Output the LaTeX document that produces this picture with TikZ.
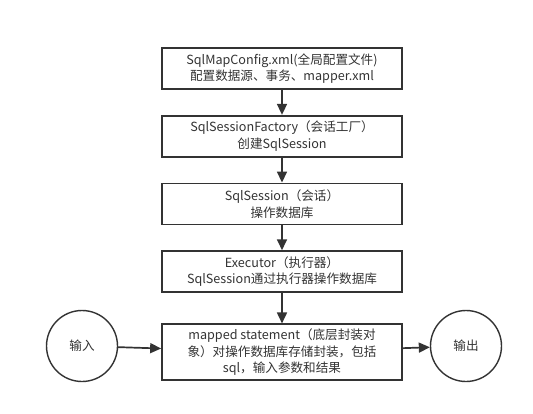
\documentclass[tikz,border=0pt]{standalone}
\usepackage{fontspec}
\setmainfont{Noto Sans CJK SC}
\usetikzlibrary{arrows.meta,positioning}
\definecolor{ink}{HTML}{333333}

\begin{document}
\begin{tikzpicture}[x=1pt, y=-1pt,
    box/.style={draw=ink, line width=1.7pt, align=center, inner sep=3pt, text=ink, font=\fontsize{12.6}{16.5}\selectfont, minimum width=240pt, minimum height=41pt},
    terminal/.style={circle, draw=ink, line width=1.4pt, minimum size=71pt, inner sep=0pt, text=ink, font=\fontsize{12.6}{16.5}\selectfont},
    arrow/.style={-{Triangle[length=11pt, width=10pt]}, line width=1.7pt, draw=ink}
  ]
    \useasboundingbox (0,0) rectangle (533,413);
    \node[box] (config) at (282,68.5) {SqlMapConfig.xml(全局配置文件)\\配置数据源、事务、mapper.xml};
    \node[box, below=25pt of config] (factory) {SqlSessionFactory（会话工厂）\\创建SqlSession};
    \node[box, below=25pt of factory] (session) {SqlSession（会话）\\操作数据库};
    \node[box, below=25pt of session] (executor) {Executor（执行器）\\SqlSession通过执行器操作数据库};
    \node[box, below=30.5pt of executor, minimum height=56pt] (mapped) {mapped statement（底层封装对\\象）对操作数据库存储封装，包括\\sql，输入参数和结果};
    \node[terminal] (input) at (82,346) {输入};
    \node[terminal] (output) at (466,346) {输出};
    \draw[arrow] (config) -- (factory);
    \draw[arrow] (factory) -- (session);
    \draw[arrow] (session) -- (executor);
    \draw[arrow] (executor) -- (mapped);
    \draw[arrow] (input) -- (mapped);
    \draw[arrow] (mapped) -- (output);
  \end{tikzpicture}
\end{document}
